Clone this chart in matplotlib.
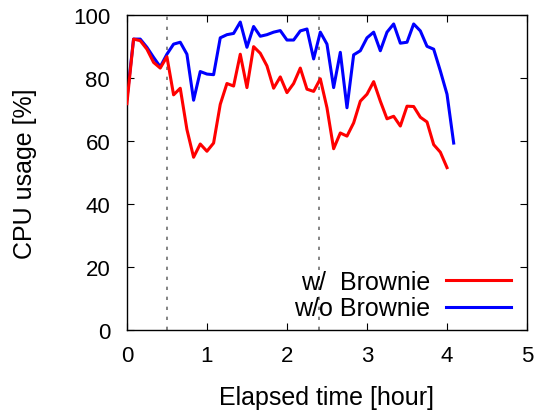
import matplotlib
matplotlib.use("Agg")
import matplotlib.pyplot as plt
import numpy as np

plt.rcParams['font.family'] = ['Liberation Sans', 'DejaVu Sans']

interval_hours = 5 / 60.0

with_brownie = [71.9, 92.4, 91.9, 89.2, 85.0, 83.2, 86.8, 74.7, 76.8, 63.7,
                54.9, 59.1, 56.8, 59.4, 71.7, 78.3, 77.5, 87.6, 77.0, 90.0,
                87.9, 83.9, 76.8, 80.4, 75.4, 78.3, 83.2, 76.5, 75.8, 79.8,
                70.6, 57.6, 62.6, 61.6, 65.8, 72.7, 74.9, 78.9, 72.7, 67.1,
                67.9, 64.8, 71.1, 71.0, 67.6, 66.1, 58.9, 56.5, 51.6]
without_brownie = [73.5, 92.4, 92.4, 89.8, 86.6, 83.6, 87.6, 90.8, 91.4, 87.6,
                   73.0, 82.1, 81.3, 81.1, 92.8, 93.8, 94.2, 97.8, 89.8, 96.4,
                   93.3, 93.8, 94.6, 95.1, 92.1, 92.1, 95.0, 95.6, 86.1, 94.6,
                   90.8, 77.0, 88.2, 70.6, 87.4, 88.7, 92.8, 94.6, 88.7, 94.6,
                   97.2, 91.1, 91.4, 97.2, 95.0, 90.1, 89.2, 82.3, 74.9, 59.4]
event_times = [0.5, 2.4]
x_ticks = [0, 1, 2, 3, 4, 5]
y_ticks = [0, 20, 40, 60, 80, 100]

t_w = np.arange(len(with_brownie)) * interval_hours
t_wo = np.arange(len(without_brownie)) * interval_hours

fig = plt.figure(figsize=(5.4, 4.14), dpi=100)
ax = fig.add_axes([0.235, 0.2, 0.741, 0.761])

for et in event_times:
    ax.axvline(et, color='#707070', linestyle=(0, (2, 4)), linewidth=1.2, zorder=1)

ax.plot(t_w, with_brownie, color='#ff0000', linewidth=2.2, label='w/  Brownie', zorder=3)
ax.plot(t_wo, without_brownie, color='#0000ff', linewidth=2.2, label='w/o Brownie', zorder=2)

ax.set_xlim(0, 5)
ax.set_ylim(0, 100)
ax.set_xticks(x_ticks)
ax.set_yticks(y_ticks)
ax.tick_params(direction='in', top=True, right=True, labelsize=16, length=5, width=0.8)
ax.tick_params(axis='y', pad=12)
ax.tick_params(axis='x', pad=11)
for s in ax.spines.values():
    s.set_linewidth(1.0)

ax.set_xlabel('Elapsed time [hour]', fontsize=18, labelpad=13)
ax.set_ylabel('CPU usage [%]', fontsize=18, labelpad=26)

leg = ax.legend(loc='lower right', frameon=False, markerfirst=False, fontsize=18,
                handlelength=2.6, handletextpad=0.6, labelspacing=0.1,
                borderaxespad=0.5, bbox_to_anchor=(1.015, -0.04))
for txt in leg.get_texts():
    txt.set_ha('right')

fig.savefig('out.png', dpi=100)
